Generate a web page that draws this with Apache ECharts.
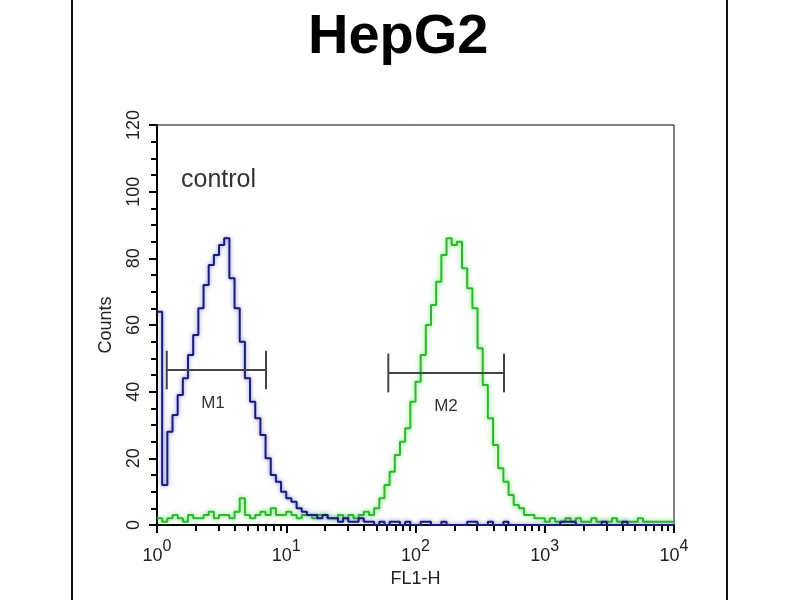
<!DOCTYPE html>
<html>
<head>
<meta charset="utf-8">
<script src="https://cdn.jsdelivr.net/npm/echarts@6/dist/echarts.min.js"></script>
<style>
  html, body { margin: 0; padding: 0; background: #fff; }
  #main { width: 800px; height: 600px; }
</style>
</head>
<body>
<div id="main"></div>
<script>
// histogram bins: 0.04 decade wide, starting at 10^0
var binWidth = 0.04;
var controlCounts = [
  64, 12, 28, 33, 39, 44, 51, 57, 65, 72, 78, 81, 84, 86, 74, 65, 55, 44, 37, 32,
  27, 20, 15, 13, 10, 8, 7, 5, 4, 3, 3, 2, 3, 2, 2, 1, 2, 1, 1, 2,
  1, 1, 0, 1, 0, 1, 1, 0, 1, 0, 0, 1, 1, 0, 0, 1, 0, 0, 0, 0,
  1, 1, 0, 0, 1, 0, 0, 1, 0, 0, 0, 0, 0, 0, 0, 0, 0, 0, 1, 1,
  1, 0, 0, 0, 0, 0, 1, 0, 0, 0, 1, 0, 0, 0, 0, 0, 0, 0, 0, 0
];
var sampleCounts = [
  2, 1, 2, 3, 2, 1, 3, 2, 2, 3, 4, 2, 3, 3, 2, 4, 8, 3, 2, 3,
  4, 3, 5, 3, 3, 4, 3, 2, 3, 3, 2, 3, 3, 2, 2, 3, 2, 3, 2, 3,
  4, 3, 5, 8, 12, 16, 21, 25, 29, 37, 43, 51, 60, 66, 73, 81, 86, 84, 85, 77,
  71, 65, 53, 42, 32, 24, 17, 13, 9, 6, 5, 3, 3, 2, 2, 1, 2, 1, 1, 2,
  1, 2, 1, 1, 2, 1, 1, 1, 2, 1, 1, 1, 1, 2, 1, 1, 1, 1, 1, 1
];

var xMajorTicks = [1, 10, 100, 1000, 10000];
var xMinorTicks = [
  2, 3, 4, 5, 6, 7, 8, 9,
  20, 30, 40, 50, 60, 70, 80, 90,
  200, 300, 400, 500, 600, 700, 800, 900,
  2000, 3000, 4000, 5000, 6000, 7000, 8000, 9000
];

// gate markers
var markerNames = ['M1', 'M2'];
var markerStart = [1.19, 61.6];
var markerEnd = [6.97, 484];
var markerLevel = [46.5, 45.6];
var markerLabelX = [2.71, 172];
var markerLabelY = [36.6, 35.7];

function toSeries(counts) {
  var out = [];
  for (var i = 0; i < counts.length; i++) {
    out.push([Math.pow(10, i * binWidth), counts[i]]);
  }
  out.push([10000, counts[counts.length - 1]]);
  return out;
}

var markerData = markerNames.map(function (n, i) {
  return [markerStart[i], markerEnd[i], markerLevel[i], markerLabelX[i], markerLabelY[i], n];
});

var font = 'Liberation Sans, Arial, sans-serif';
var chart = echarts.init(document.getElementById('main'));

var option = {
  backgroundColor: '#fff',
  animation: false,
  title: {
    text: 'HepG2',
    left: 303,
    top: 5,
    textStyle: { fontFamily: font, fontSize: 56, fontWeight: 'bold', color: '#000' }
  },
  grid: {
    left: 157, right: 126, top: 125, bottom: 75,
    show: true, borderColor: '#000', borderWidth: 1, backgroundColor: 'transparent'
  },
  xAxis: [{
    type: 'log',
    logBase: 10,
    min: 1,
    max: 10000,
    name: 'FL1-H',
    nameLocation: 'middle',
    nameGap: 45,
    nameTextStyle: { fontFamily: font, fontSize: 18, color: '#222' },
    axisLine: { lineStyle: { color: '#000', width: 2 } },
    axisTick: { show: true, length: 8, lineStyle: { color: '#000', width: 2 }, customValues: xMajorTicks },
    axisLabel: {
      margin: 14,
      customValues: xMajorTicks,
      formatter: function (v) {
        return '{b|10}{s|' + Math.round(Math.log10(v)) + '}';
      },
      rich: {
        b: { fontFamily: font, fontSize: 18, color: '#222', lineHeight: 26, verticalAlign: 'bottom' },
        s: { fontFamily: font, fontSize: 16, color: '#222', lineHeight: 26, verticalAlign: 'top' }
      }
    },
    splitLine: { show: false }
  }, {
    type: 'log',
    logBase: 10,
    min: 1,
    max: 10000,
    position: 'bottom',
    axisLine: { show: false },
    axisTick: { show: true, length: 6, lineStyle: { color: '#000', width: 2 }, customValues: xMinorTicks },
    axisLabel: { show: false },
    splitLine: { show: false }
  }],
  yAxis: {
    type: 'value',
    min: 0,
    max: 120,
    interval: 20,
    name: 'Counts',
    nameLocation: 'middle',
    nameGap: 42,
    nameTextStyle: { fontFamily: font, fontSize: 18, color: '#222' },
    axisLine: { show: true, lineStyle: { color: '#000', width: 2 } },
    axisTick: { show: true, length: 8, lineStyle: { color: '#000', width: 2 } },
    minorTick: { show: true, splitNumber: 4, length: 6, lineStyle: { color: '#000', width: 2 } },
    axisLabel: { rotate: 90, margin: 14, fontFamily: font, fontSize: 18, color: '#222' },
    splitLine: { show: false }
  },
  graphic: [
    { type: 'line', shape: { x1: 72, y1: 0, x2: 72, y2: 600 }, style: { stroke: '#111', lineWidth: 2 } },
    { type: 'line', shape: { x1: 727, y1: 0, x2: 727, y2: 600 }, style: { stroke: '#111', lineWidth: 2 } },
    {
      type: 'text', left: 181, top: 168,
      style: { text: 'control', fontFamily: font, fontSize: 25, fill: '#333' }
    }
  ],
  series: [{
    name: 'sample',
    type: 'line',
    step: 'end',
    symbol: 'none',
    data: toSeries(sampleCounts),
    lineStyle: { color: '#2fb52f', width: 2, shadowColor: 'rgba(80,235,80,0.9)', shadowBlur: 5 },
    z: 2
  }, {
    name: 'control',
    type: 'line',
    step: 'end',
    symbol: 'none',
    data: toSeries(controlCounts),
    lineStyle: { color: '#1a1c78', width: 2, shadowColor: 'rgba(90,90,210,0.8)', shadowBlur: 4 },
    z: 3
  }, {
    name: 'markers',
    type: 'custom',
    data: markerData,
    z: 4,
    renderItem: function (params, api) {
      var y = api.value(2);
      var a = api.coord([api.value(0), y]);
      var b = api.coord([api.value(1), y]);
      var top = api.coord([api.value(0), y + 5.8])[1];
      var bot = api.coord([api.value(0), y - 5.8])[1];
      var lab = api.coord([api.value(3), api.value(4)]);
      var st = { stroke: '#444', lineWidth: 2 };
      return {
        type: 'group',
        children: [
          { type: 'line', shape: { x1: a[0], y1: a[1], x2: b[0], y2: b[1] }, style: st },
          { type: 'line', shape: { x1: a[0], y1: top, x2: a[0], y2: bot }, style: st },
          { type: 'line', shape: { x1: b[0], y1: top, x2: b[0], y2: bot }, style: st },
          {
            type: 'text', x: lab[0], y: lab[1],
            style: {
              text: api.value(5), fontFamily: font, fontSize: 17, fill: '#333',
              align: 'center', verticalAlign: 'middle'
            }
          }
        ]
      };
    }
  }]
};

chart.setOption(option);
</script>
</body>
</html>
